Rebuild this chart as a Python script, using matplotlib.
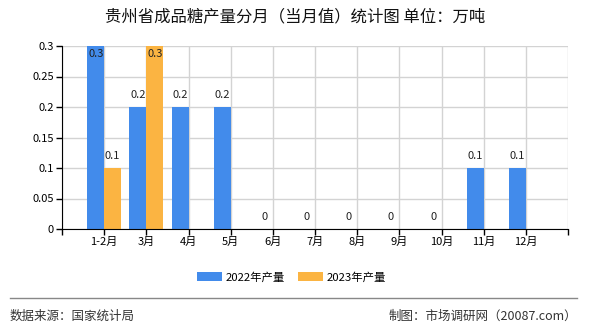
import numpy as np
import matplotlib.pyplot as plt
import matplotlib.lines as mlines

plt.rcParams['font.family'] = ['Noto Sans CJK SC', 'DejaVu Sans']

# data
months = ['1-2月', '3月', '4月', '5月', '6月', '7月', '8月', '9月', '10月', '11月', '12月']
prod_2022 = [0.3, 0.2, 0.2, 0.2, 0, 0, 0, 0, 0, 0.1, 0.1]
prod_2023 = [0.1, 0.3]
series_names = ['2022年产量', '2023年产量']
colors = ['#428BEB', '#FBB442']
yticks = [0, 0.05, 0.1, 0.15, 0.2, 0.25, 0.3]
ytick_labels = ['0', '0.05', '0.1', '0.15', '0.2', '0.25', '0.3']

fig = plt.figure(figsize=(5.9, 3.3), dpi=100)
ax = fig.add_axes([62/590, 1-229/330, 506/590, 183/330])

x = np.arange(1, len(months) + 1)
w = 0.4
ymax = 0.3

b1 = ax.bar(x[:len(prod_2022)] - w/2, prod_2022, w, color=colors[0], zorder=3)
b2 = ax.bar(x[:len(prod_2023)] + w/2, prod_2023, w, color=colors[1], zorder=3)

# value labels (the ones at the top of the axis go inside the bar)
for xs, vals in ((x[:len(prod_2022)] - w/2, prod_2022), (x[:len(prod_2023)] + w/2, prod_2023)):
    for xi, v in zip(xs, vals):
        off = -6 if v >= ymax else 8.6
        ax.annotate(f'{v:g}', (xi, min(v, ymax)), xytext=(0, off), textcoords='offset points',
                    ha='center', va='center', fontsize=8, color='#222222', zorder=4)

ax.set_xlim(0, 12)
ax.set_ylim(0, ymax)
ax.set_xticks(np.arange(0, 13))
ax.set_xticklabels([''] + months + [''], fontsize=8)
ax.set_yticks(yticks)
ax.set_yticklabels(ytick_labels, fontsize=8)
ax.tick_params(axis='both', length=4, width=1, color='black', pad=2)

ax.grid(True, color='#D3D3D3', linewidth=1, zorder=0)
ax.spines['top'].set_visible(False)
ax.spines['right'].set_visible(False)
ax.spines['left'].set_color('black')
ax.spines['bottom'].set_color('black')
ax.spines['left'].set_zorder(5)
ax.spines['bottom'].set_zorder(5)

fig.text(0.5, 1-17/330, '贵州省成品糖产量分月（当月值）统计图 单位：万吨',
         ha='center', va='center', fontsize=11.8, color='#111111')

fig.legend([b1, b2], series_names, loc='center', bbox_to_anchor=(0.494, 1-277/330),
           ncol=2, frameon=False, fontsize=8.2, handlelength=2.2, handleheight=0.8,
           columnspacing=1.2, handletextpad=0.3)

fig.add_artist(mlines.Line2D([10/590, 577/590], [1-298/330, 1-298/330],
                             color='#888888', linewidth=1))
fig.text(10/590, 1-316/330, '数据来源：国家统计局', ha='left', va='center',
         fontsize=9, color='#333333')
fig.text(577/590, 1-316/330, '制图：市场调研网（20087.com）', ha='right', va='center',
         fontsize=9, color='#333333')

fig.savefig('out.png', dpi=100)
